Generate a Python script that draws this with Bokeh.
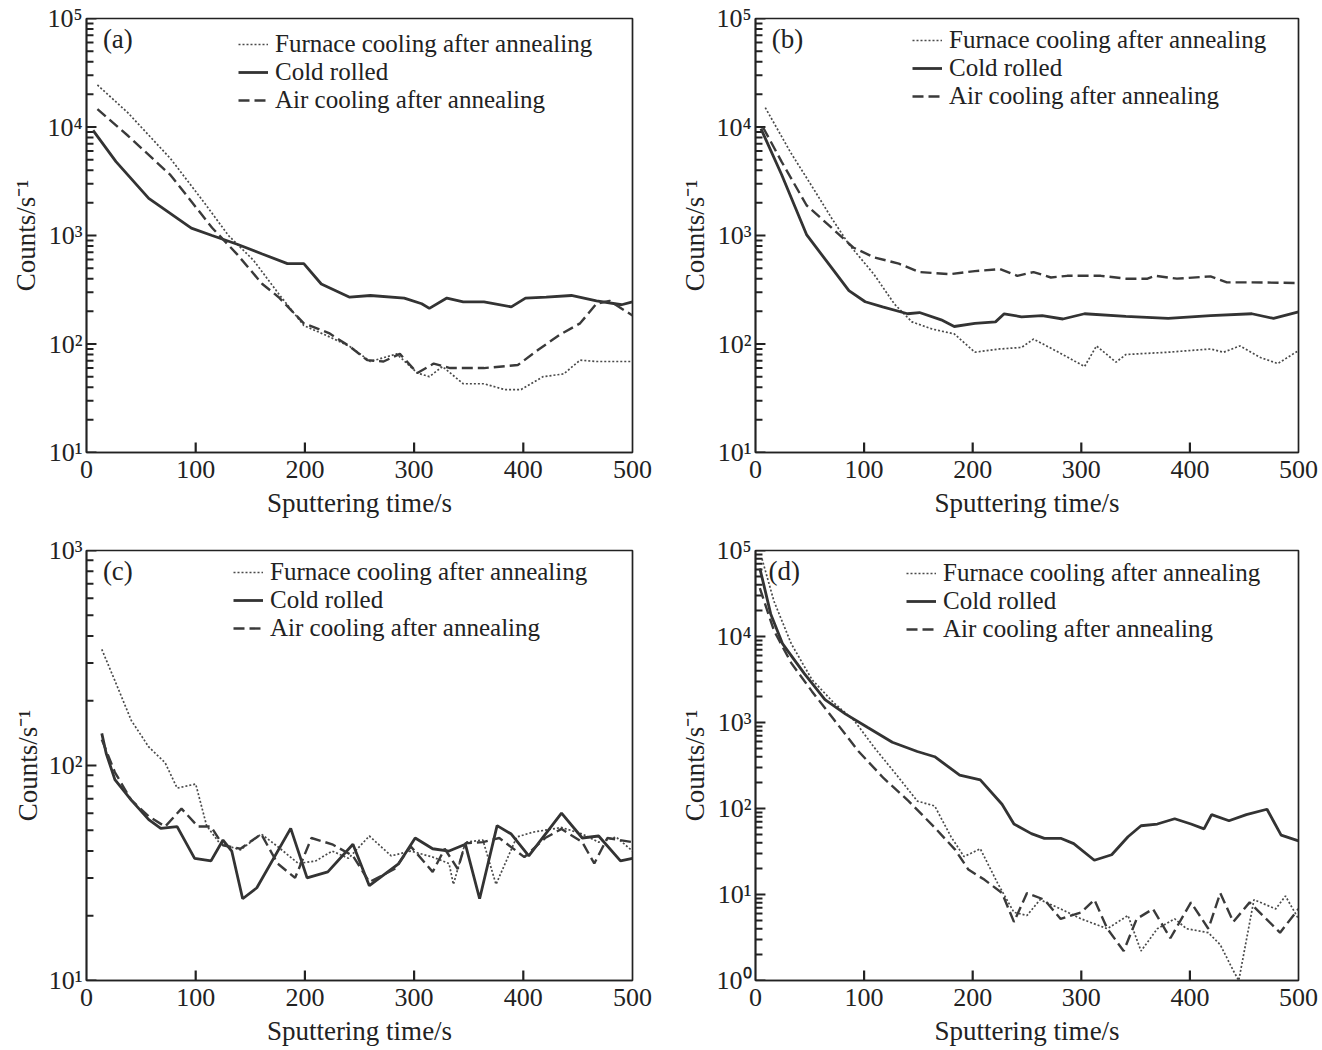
from bokeh.plotting import figure
from bokeh.layouts import gridplot
from bokeh.models import Legend, LegendItem, Label, CustomJSTickFormatter, FixedTicker
from bokeh.embed import file_html
from bokeh.resources import INLINE

SERIES = ["Furnace cooling after annealing", "Cold rolled", "Air cooling after annealing"]
X_TICKS = [0, 100, 200, 300, 400, 500]

# ---- panel (a) ----
a_furnace_t = [10, 38, 77, 107, 130, 153, 176, 199, 222, 241, 260, 284, 303, 314, 326, 345, 364, 383, 398, 418, 437, 452, 467, 500]
a_furnace_y = [24400, 13500, 5100, 2060, 1000, 590, 290, 148, 117, 95, 69, 81, 54, 50, 62, 43, 43, 38, 38, 50, 53, 71, 69, 69]
a_cold_t = [6, 27, 57, 96, 115, 138, 161, 184, 199, 215, 241, 260, 291, 307, 314, 330, 345, 364, 389, 402, 421, 444, 467, 490, 500]
a_cold_y = [9300, 4800, 2200, 1170, 1000, 830, 675, 550, 550, 357, 270, 280, 265, 235, 213, 265, 245, 245, 220, 265, 270, 280, 250, 230, 245]
a_air_t = [10, 38, 77, 115, 138, 161, 176, 199, 222, 241, 257, 272, 287, 303, 318, 333, 364, 395, 414, 433, 452, 467, 479, 500]
a_air_y = [14600, 8300, 3600, 1180, 670, 357, 270, 155, 126, 95, 71, 69, 81, 54, 66, 60, 60, 64, 89, 121, 155, 235, 250, 183]

# ---- panel (b) ----
b_furnace_t = [9, 32, 55, 70, 86, 109, 128, 144, 163, 183, 202, 225, 245, 256, 279, 303, 314, 332, 341, 380, 419, 431, 446, 465, 481, 500]
b_furnace_y = [15100, 5900, 2540, 1450, 830, 440, 233, 160, 137, 124, 84, 90, 93, 111, 84, 62, 96, 68, 80, 84, 90, 84, 96, 75, 66, 87]
b_cold_t = [5, 24, 47, 70, 86, 101, 117, 140, 151, 171, 183, 202, 221, 229, 245, 264, 283, 303, 341, 380, 419, 457, 477, 500]
b_cold_y = [9650, 3650, 1020, 505, 310, 245, 220, 190, 195, 167, 145, 155, 160, 190, 178, 183, 170, 190, 180, 172, 183, 190, 172, 198]
b_air_t = [7, 24, 47, 70, 90, 109, 132, 151, 179, 202, 225, 241, 256, 272, 287, 318, 341, 361, 368, 388, 419, 434, 457, 500]
b_air_y = [9900, 4800, 1900, 1180, 775, 630, 550, 460, 440, 470, 490, 425, 460, 410, 425, 425, 400, 400, 425, 400, 420, 370, 370, 365]

# ---- panel (c) ----
c_furnace_t = [14, 26, 41, 57, 72, 83, 100, 110, 122, 141, 160, 175, 194, 210, 225, 240, 259, 279, 297, 317, 332, 336, 347, 363, 375, 394, 409, 435, 454, 469, 485, 500]
c_furnace_y = [347, 248, 162, 122, 103, 78.5, 82, 52.5, 43.4, 40.5, 48, 42, 35, 36, 40, 37, 47, 38, 40, 37.5, 35, 28, 44, 45, 28, 46.5, 49, 51.5, 48, 44, 46.5, 40]
c_cold_t = [14, 18, 26, 41, 57, 68, 83, 99, 114, 125, 133, 143, 156, 187, 202, 221, 244, 259, 286, 301, 317, 332, 347, 360, 376, 389, 405, 435, 454, 469, 489, 500]
c_cold_y = [141, 114, 86, 69, 56, 51, 52, 37, 36, 45, 40, 24, 27, 51, 30, 32, 43, 27.6, 35, 46, 41, 40, 43, 24, 52.5, 48, 38, 60, 46, 47, 36, 37]
c_air_t = [14, 26, 41, 57, 72, 87, 102, 114, 125, 141, 160, 175, 191, 206, 225, 244, 259, 282, 297, 317, 328, 340, 347, 363, 378, 401, 420, 435, 454, 465, 477, 500]
c_air_y = [132, 93, 69, 58, 52, 63, 52, 52, 42.5, 41, 48, 35, 30, 46, 43, 38, 28.7, 33, 42, 32, 41, 33, 43.5, 44, 46, 37.5, 46, 50.7, 44, 35, 46, 44]

# ---- panel (d) ----
d_furnace_t = [6, 17, 33, 52, 72, 91, 110, 130, 149, 165, 180, 192, 207, 223, 238, 250, 262, 281, 300, 324, 343, 355, 370, 386, 397, 417, 428, 440, 445, 459, 479, 488, 500]
d_furnace_y = [80000, 25700, 8200, 3150, 1700, 1050, 500, 245, 122, 107, 47, 27.6, 34, 13.5, 6.2, 5.7, 8.7, 6.8, 5.2, 4.0, 5.7, 2.2, 4.0, 5.2, 4.0, 3.6, 2.6, 1.3, 1.0, 8.7, 6.8, 9.6, 5.2]
d_cold_t = [4, 14, 25, 45, 64, 83, 103, 126, 149, 165, 188, 207, 227, 238, 254, 266, 281, 293, 312, 328, 343, 355, 370, 386, 401, 413, 420, 436, 452, 471, 484, 500]
d_cold_y = [62000, 18300, 8200, 3700, 1850, 1250, 880, 590, 460, 400, 245, 215, 112, 66, 51, 45, 45, 39, 25, 29, 47, 63, 66, 76, 66, 58, 85, 72, 85, 98, 49, 42]
d_air_t = [4, 17, 33, 52, 72, 95, 118, 141, 165, 184, 196, 211, 227, 238, 250, 266, 281, 300, 312, 324, 339, 351, 366, 382, 401, 417, 428, 440, 455, 483, 500]
d_air_y = [36500, 11700, 4900, 2300, 1090, 460, 225, 122, 60, 33, 19.5, 14.8, 10.4, 4.8, 10.4, 8.7, 5.2, 6.2, 8.7, 4.0, 2.2, 5.2, 6.8, 3.1, 8.1, 4.0, 10.4, 4.8, 8.1, 3.6, 6.8]

# ---- styles ----
FONT = "Liberation Serif"
INK = "#222222"
FS = "26px"
STYLES = [
    dict(line_dash="2 2", line_width=1.7, line_color="#4a4a4a"),   # furnace cooling
    dict(line_dash="solid", line_width=2.8, line_color="#333333"), # cold rolled
    dict(line_dash="11 5", line_width=2.4, line_color="#3a3a3a"),  # air cooling
]
LEG_FS = "25px"
ROW_H = 29  # approx. rendered height of one legend row at 25px

SUP = CustomJSTickFormatter(code="""
const s = {'0':'\u2070','1':'\u00b9','2':'\u00b2','3':'\u00b3','4':'\u2074','5':'\u2075','-':'\u207b'};
const e = Math.round(Math.log10(tick));
return '10' + String(e).split('').map(c => s[c]).join('');
""")


def make_panel(tag, series, ylo_exp, yhi_exp, width, height, borders, tag_pos, leg_x, leg_top):
    left, right, top, bottom = borders
    p = figure(width=width, height=height, y_axis_type="log",
               x_range=(0, 500), y_range=(10 ** ylo_exp, 10 ** yhi_exp),
               output_backend="svg", toolbar_location=None,
               min_border_left=left, min_border_right=right,
               min_border_top=top, min_border_bottom=bottom,
               background_fill_color="white", border_fill_color="white")
    p.grid.visible = False
    p.outline_line_color = INK
    p.outline_line_width = 1.7
    p.outline_line_alpha = 1

    majors = [10 ** e for e in range(ylo_exp, yhi_exp + 1)]
    minors = [m * 10 ** e for e in range(ylo_exp, yhi_exp) for m in range(2, 10)]
    p.yaxis.ticker = FixedTicker(ticks=majors)
    p.yaxis.formatter = SUP
    p.xaxis.ticker = FixedTicker(ticks=X_TICKS)

    for ax in (p.xaxis[0], p.yaxis[0]):
        ax.axis_line_color = INK
        ax.axis_line_width = 1.7
        ax.major_tick_in = 0
        ax.major_tick_out = 0
        ax.minor_tick_line_color = None
        ax.major_label_text_font = FONT
        ax.major_label_text_font_size = FS
        ax.major_label_text_color = INK
        ax.axis_label_text_font = FONT
        ax.axis_label_text_font_size = "27px"
        ax.axis_label_text_font_style = "normal"
        ax.axis_label_text_color = INK
    p.xaxis.major_label_standoff = 8
    p.xaxis.axis_label = "Sputtering time/s"
    p.xaxis.axis_label_standoff = 7
    p.yaxis.axis_label = "Counts/s\u207b\u00b9"
    p.yaxis.major_label_standoff = 4
    p.yaxis.axis_label_standoff = 3

    # inward tick marks drawn as short segments from the frame edge
    frame_w = width - left - right
    frame_h = height - top - bottom
    ux = 500.0 / frame_w                      # data units per pixel (x)
    k = (yhi_exp - ylo_exp) / frame_h         # decades per pixel (y)
    p.segment(x0=[0] * len(majors), y0=majors, x1=[10 * ux] * len(majors), y1=majors,
              line_color=INK, line_width=2.2)
    p.segment(x0=[0] * len(minors), y0=minors, x1=[7 * ux] * len(minors), y1=minors,
              line_color=INK, line_width=2.0)
    inner_x = X_TICKS[1:-1]
    p.segment(x0=inner_x, y0=[10 ** ylo_exp] * len(inner_x),
              x1=inner_x, y1=[10 ** (ylo_exp + 10 * k)] * len(inner_x),
              line_color=INK, line_width=2.2)

    items = []
    for name, (t, y), st in zip(SERIES, series, STYLES):
        r = p.line(t, y, **st)
        items.append(LegendItem(label=name, renderers=[r]))
    leg = Legend(items=items,
                 location=(leg_x, frame_h - leg_top - 3 * ROW_H),
                 label_text_font=FONT, label_text_font_size=LEG_FS,
                 label_text_color=INK,
                 background_fill_alpha=0, border_line_alpha=0,
                 glyph_width=30, glyph_height=22, label_height=22,
                 spacing=0, padding=0, margin=0, label_standoff=7)
    p.add_layout(leg)

    p.add_layout(Label(x=tag_pos[0], y=tag_pos[1], text=tag, text_font=FONT,
                       text_font_size="27px", text_color=INK,
                       text_baseline="top"))
    return p


pa = make_panel("(a)", [(a_furnace_t, a_furnace_y), (a_cold_t, a_cold_y), (a_air_t, a_air_y)],
                1, 5, 668, 525, (86, 35, 18, 73), (15, 10 ** 4.95), 152, 9)
pb = make_panel("(b)", [(b_furnace_t, b_furnace_y), (b_cold_t, b_cold_y), (b_air_t, b_air_y)],
                1, 5, 654, 525, (87, 22, 18, 73), (15, 10 ** 4.95), 157, 5)
pc = make_panel("(c)", [(c_furnace_t, c_furnace_y), (c_cold_t, c_cold_y), (c_air_t, c_air_y)],
                1, 3, 668, 525, (83, 36, 25, 67), (15, 10 ** 2.975), 147, 8)
pd = make_panel("(d)", [(d_furnace_t, d_furnace_y), (d_cold_t, d_cold_y), (d_air_t, d_air_y)],
                0, 5, 654, 525, (84, 24, 25, 70), (12, 10 ** 4.94), 151, 6)

grid = gridplot([[pa, pb], [pc, pd]], toolbar_location=None)

open("out.html", "w").write(file_html(grid, INLINE))
